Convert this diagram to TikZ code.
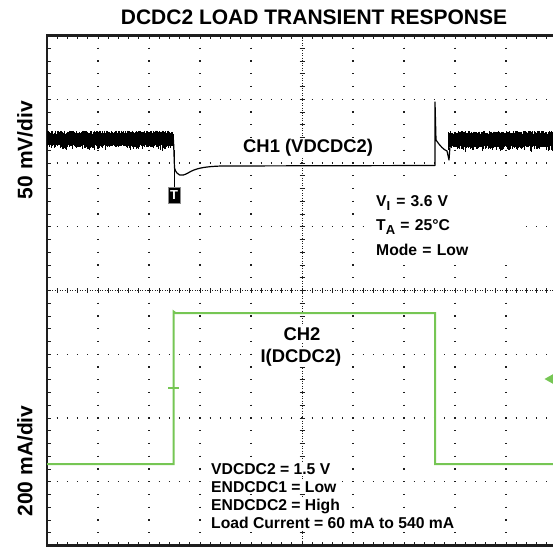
\documentclass[tikz,border=0pt]{standalone}
\usepackage{fontspec}
\setmainfont{Liberation Sans}
\usetikzlibrary{
    calc,
    positioning,
}
\definecolor{traceGreen}{RGB}{118,198,84}
\definecolor{frameGrey}{RGB}{30,30,30}
\newcommand{\lowsub}[1]{\raisebox{-4pt}{\fontsize{13}{13}\selectfont #1}}

\begin{document}
\begin{tikzpicture}[x=1pt,y=-1pt,line cap=butt]

    \tikzstyle{commonText}=[inner sep=1.5pt, fill=white, text=black]
    \tikzstyle{titleText}=[commonText, fill=none, font=\fontsize{21}{25}\selectfont\bfseries]
    \tikzstyle{axisLabel}=[titleText, rotate=90]
    \tikzstyle{chanLabel}=[commonText, font=\fontsize{18.4}{22}\selectfont\bfseries]
    \tikzstyle{noteLabel}=[commonText, font=\fontsize{15.7}{18}\selectfont\bfseries, anchor=base west]
    \tikzstyle{gridRow}=[frameGrey, line width=1.3pt, dash pattern=on 1.3pt off 8.9pt, dash phase=0.65pt]
    \tikzstyle{gridCol}=[frameGrey, line width=1.3pt, dash pattern=on 1.3pt off 11.45pt, dash phase=0.65pt]
    \tikzstyle{centreLine}=[frameGrey, line width=0.8pt, dash pattern=on 0.8pt off 1.7pt]
    \tikzstyle{tick}=[frameGrey, line width=0.9pt]
    \tikzstyle{frameEdge}=[frameGrey, line width=2.6pt]
    \tikzstyle{chOneTrace}=[black, line width=1.2pt, line join=round]
    \tikzstyle{chTwoTrace}=[traceGreen, line width=2pt]
    \tikzstyle{trigBox}=[fill=black, draw=black!45, line width=0.8pt, text=white, font=\fontsize{13}{13}\selectfont\bfseries, minimum width=12pt, minimum height=16pt, inner sep=0pt]

    \useasboundingbox (0,0) rectangle (553,548);
    \clip (0,0) rectangle (553,548);

    % Screen divisions
    \def \hspacing {51}
    \def \vspacing {63.75}
    \def \xorig {47}
    \def \yorig {35.5}
    \def \hminor {10.2}
    \def \vminor {12.75}

    % Grid
    \foreach \i in {1,2,3,5,6,7}
        \draw[gridRow] (\xorig, \yorig+\i*\vspacing) -- (\xorig+10*\hspacing, \yorig+\i*\vspacing);
    \foreach \i in {1,2,3,4,6,7,8,9}
        \draw[gridCol] (\xorig+\i*\hspacing, \yorig) -- (\xorig+\i*\hspacing, \yorig+8*\vspacing);

    % Centre lines with ticks
    \draw[centreLine] (\xorig, \yorig+4*\vspacing) -- (\xorig+10*\hspacing, \yorig+4*\vspacing);
    \draw[centreLine] (\xorig+5*\hspacing, \yorig) -- (\xorig+5*\hspacing, \yorig+8*\vspacing);
    \foreach \k in {1,...,49} {
        \draw[tick] (\xorig+\k*\hminor, \yorig+4*\vspacing-2.5) -- ++(0,5);
        \draw[tick] (\xorig+\k*\hminor, \yorig) -- ++(0,4);
        \draw[tick] (\xorig+\k*\hminor, \yorig+8*\vspacing) -- ++(0,-4);
    }
    \foreach \k in {1,...,39} {
        \draw[tick] (\xorig+5*\hspacing-2.5, \yorig+\k*\vminor) -- ++(5,0);
        \draw[tick] (\xorig, \yorig+\k*\vminor) -- ++(4,0);
    }

    % Frame
    \draw[frameEdge] (\xorig+10*\hspacing, \yorig) -- (\xorig, \yorig) -- (\xorig, \yorig+8*\vspacing) -- (\xorig+10*\hspacing, \yorig+8*\vspacing);

    % CH1 ripple
    \pgfmathsetseed{17}
    \fill[black] (\xorig, 134) rectangle (173.5, 145);
    \fill[black] (448, 134) rectangle (557, 146);
    \foreach \x in {47.4,48,...,173.4} {
        \pgfmathsetmacro{\ytop}{134-3.5*rnd}
        \pgfmathsetmacro{\ybot}{145+6*rnd*rnd}
        \draw[black, line width=0.7pt] (\x,\ytop) -- (\x,\ybot);
    }
    \foreach \x in {448.4,449,...,556} {
        \pgfmathsetmacro{\ytop}{134-3*rnd}
        \pgfmathsetmacro{\ybot}{146+6*rnd*rnd}
        \draw[black, line width=0.7pt] (\x,\ytop) -- (\x,\ybot);
    }

    % CH1 step response
    \draw[chOneTrace] (173.5,140) -- (174.5,168) .. controls (177,176) and (181,177) .. (188,173)
        .. controls (195,168.5) and (204,166.5) .. (222,166) -- (435,165.5) -- (435,102) -- (436,140)
        .. controls (440,146) and (444,150) .. (447,151) -- (449,160) -- (450,146);

    % CH2 load current
    \draw[chTwoTrace] (\xorig,464) -- (173.5,464) -- (173.5,311.5) -- (175.5,313) -- (435,313) -- (435,464) -- (557,464);
    \draw[chTwoTrace, line width=1.5pt] (168,388) -- (179,388);
    \fill[traceGreen] (544.5,379) -- (556,372.5) -- (556,385.5) -- cycle;

    % Trigger marker
    \coordinate (trigPoint) at (174,150);
    \node at (174,195.3) [trigBox] (trig) {T};
    \draw[black, line width=0.8pt] (trig.north) -- (trigPoint);

    % Labels
    \node at (314,25) [titleText, anchor=base] (title) {DCDC2 LOAD TRANSIENT RESPONSE};
    \node at (25,150) [axisLabel] (voltScale) {50 mV/div};
    \node at (25,461) [axisLabel] (currScale) {200 mA/div};
    \node at (241.5,153) [chanLabel, anchor=base west] (chOne) {CH1 (VDCDC2)};
    \node at (302,340) [chanLabel, anchor=base] (chTwo) {CH2};
    \node at (301,362) [chanLabel, anchor=base] (chTwoSignal) {I(DCDC2)};
    \node at (366,185) [noteLabel, anchor=north west, text width=137pt, align=left, inner xsep=10pt, inner ysep=10pt,
        font=\fontsize{15.7}{24.5}\selectfont\bfseries] (conditions) {V\lowsub{I}\hspace{6pt}= 3.6 V\\T\lowsub{A} = 25°C\\Mode = Low};
    \node at (209.5,474) [noteLabel] (outVolt) {VDCDC2 = 1.5 V};
    \node at (209.5,492) [noteLabel] (enOne) {ENDCDC1 = Low};
    \node at (209.5,510) [noteLabel] (enTwo) {ENDCDC2 = High};
    \node at (209.5,528) [noteLabel] (loadStep) {Load Current = 60 mA to 540 mA};
\end{tikzpicture}
\end{document}
